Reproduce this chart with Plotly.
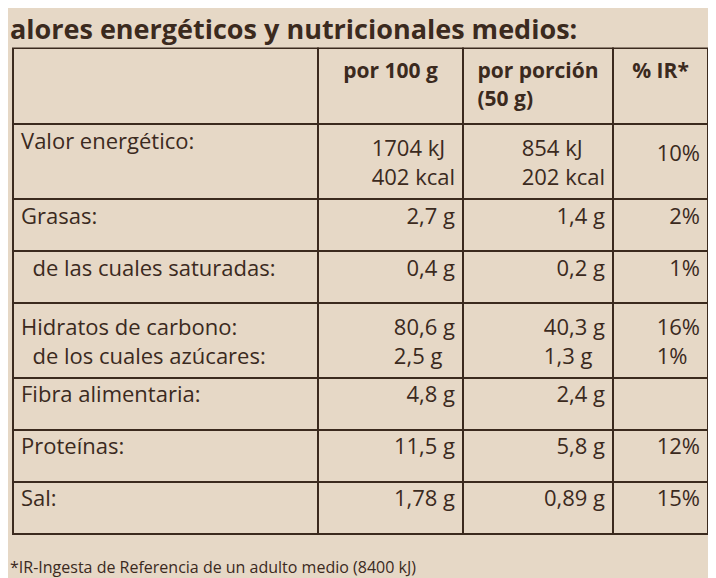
import plotly.graph_objects as go

header = ["", "<b>por 100 g</b>", "<b>por porción<br>(50 g)</b>", "<b>% IR*</b>"]
nutrientes = ["Valor energético:", "Grasas:", "  de las cuales saturadas:",
              "Hidratos de carbono:<br>  de los cuales azúcares:", "Fibra alimentaria:",
              "Proteínas:", "Sal:"]
por_100g = ["1704 kJ<br>402 kcal", "2,7 g", "0,4 g", "80,6 g<br>2,5 g", "4,8 g", "11,5 g", "1,78 g"]
por_porcion = ["854 kJ<br>202 kcal", "1,4 g", "0,2 g", "40,3 g<br>1,3 g", "2,4 g", "5,8 g", "0,89 g"]
ir = ["<br>10%", "2%", "1%", "16%<br>1%", "", "12%", "15%"]

bg = "#e6d8c6"
ink = "#3b2a1e"

fig = go.Figure(go.Table(
    domain=dict(x=[0.007, 0.978], y=[0.02, 0.93]),
    columnwidth=[305, 145, 150, 95],
    header=dict(values=header, height=76, align=["left", "center", "center", "center"],
                fill_color=bg, line=dict(color=ink, width=2),
                font=dict(family="Open Sans", size=21, color=ink)),
    cells=dict(values=[nutrientes, por_100g, por_porcion, ir], height=52,
               align=["left", "right", "right", "right"],
               fill_color=bg, line=dict(color=ink, width=2),
               font=dict(family="Open Sans", size=22, color=ink)),
))

fig.add_annotation(text="<b>alores energéticos y nutricionales medios:</b>", x=0.0, y=1.0,
                   xref="paper", yref="paper", xanchor="left", yanchor="top", showarrow=False,
                   font=dict(family="Open Sans", size=27, color=ink))
fig.add_annotation(text="*IR-Ingesta de Referencia de un adulto medio (8400 kJ)", x=0.0, y=0.0,
                   yshift=6, xref="paper", yref="paper", xanchor="left", yanchor="bottom",
                   showarrow=False, font=dict(family="Open Sans", size=16, color=ink))

fig.update_layout(width=716, height=578, margin=dict(l=0, r=0, t=0, b=0),
                  paper_bgcolor=bg, plot_bgcolor=bg)
fig.write_html("out.html")
